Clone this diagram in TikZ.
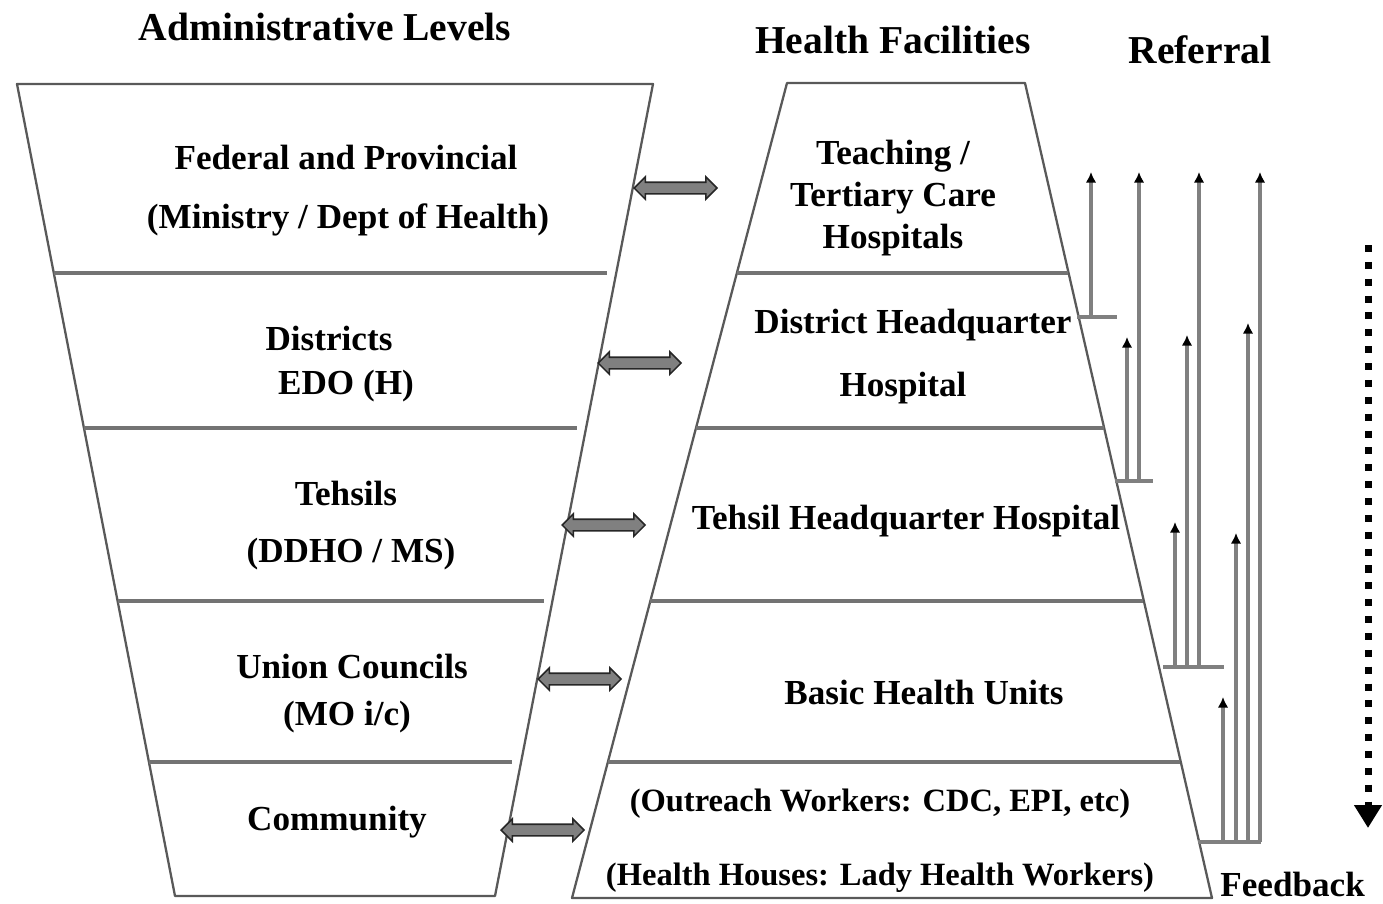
\documentclass[tikz,border=0pt]{standalone}
\usepackage{fontspec}
\setmainfont{Liberation Serif}
\usetikzlibrary{arrows.meta,shapes.arrows}
\tikzset{%
  >={Latex[width=5pt,length=5pt]},
     frame/.style = {draw=black!65, line width=1.3pt, line join=round},
   divider/.style = {draw=black!55, line width=1.8pt},
       txt/.style = {font=\bfseries\fontsize{20}{24}\selectfont, inner sep=0pt, align=center},
     small/.style = {txt, font=\bfseries\fontsize{18.5}{22}\selectfont},
     title/.style = {txt, font=\bfseries\fontsize{22.5}{27}\selectfont},
      link/.style = {double arrow, draw=black!85, fill=black!50, line width=0.9pt,
                     minimum height=1.66cm, minimum width=0.44cm,
                     double arrow head extend=0.11cm, inner xsep=0pt, inner ysep=0.1cm,
                     anchor=west},
    refbar/.style = {draw=black!50, line width=2pt},
    refarr/.style = {draw=black!50, line width=2pt, -{Latex[width=6pt,length=6pt,black]}},
  feedback/.style = {line width=4pt, dash pattern=on 4pt off 5.6pt,
                     -{Triangle[width=15pt,length=13pt]}},
}
\begin{document}
\begin{tikzpicture}[x=0.02cm, y=-0.02cm]
  \useasboundingbox (0,0) rectangle (1383,903);

  % titles
  \node (tAdm) [title] at (325,27)  {Administrative Levels};
  \node (tHF)  [title] at (893,40)  {Health Facilities};
  \node (tRef) [title] at (1200,50) {Referral};
  \node (tFb)  [txt, anchor=west] at (1220,884) {Feedback};

  % administrative levels
  \draw[frame] (17,84) -- (653,84) -- (495,896) -- (175,896) -- cycle;
  \draw[divider] (54,273)  -- (607,273);
  \draw[divider] (84,428)  -- (577,428);
  \draw[divider] (118,601) -- (544,601);
  \draw[divider] (149,762) -- (512,762);

  \node (aFed)  [txt] at (346,157) {Federal and Provincial};
  \node (aFed2) [txt] at (348,220) {(Ministry / Dept of Health)};
  \node (aDis)  [txt] at (329,338) {Districts};
  \node (aDis2) [txt] at (346,386) {EDO (H)};
  \node (aTeh)  [txt] at (346,493) {Tehsils};
  \node (aTeh2) [txt] at (351,554) {(DDHO / MS)};
  \node (aUC)   [txt] at (352,667) {Union Councils};
  \node (aUC2)  [txt] at (347,717) {(MO i/c)};
  \node (aCom)  [txt] at (337,822) {Community};

  % health facilities
  \draw[frame] (787,83) -- (1025,83) -- (1212,898) -- (572,898) -- cycle;
  \draw[divider] (737,273) -- (1068,273);
  \draw[divider] (696,428) -- (1104,428);
  \draw[divider] (650,601) -- (1143,601);
  \draw[divider] (608,762) -- (1180,762);

  \node (hTch)  [txt] at (893,198) {Teaching /\\ Tertiary Care\\ Hospitals};
  \node (hDhq)  [txt] at (913,325) {District Headquarter};
  \node (hDhq2) [txt] at (903,388) {Hospital};
  \node (hThq)  [txt] at (906,521) {Tehsil Headquarter Hospital};
  \node (hBhu)  [txt] at (924,692) {Basic Health Units};
  \node (hOut)  [small] at (880,804) {(Outreach Workers: CDC, EPI, etc)};
  \node (hHH)   [small] at (880,878) {(Health Houses: Lady Health Workers)};

  % links between the two columns
  \node (lFed) [link] at (633,188) {};
  \node (lDis) [link] at (597,363) {};
  \node (lTeh) [link] at (561,525) {};
  \node (lUC)  [link] at (537,679) {};
  \node (lCom) [link] at (500,830) {};

  % referral
  \coordinate (rDhq) at (1077,317);
  \coordinate (rThq) at (1115,481);
  \coordinate (rBhu) at (1163,667);
  \coordinate (rOut) at (1198,842);

  \draw[refbar] (rDhq) -- ++(40,0);
  \draw[refarr] (rDhq) ++(14,0) -- ++(0,-145);

  \draw[refbar] (rThq) -- ++(38,0);
  \draw[refarr] (rThq) ++(12,0) -- ++(0,-144);
  \draw[refarr] (rThq) ++(24,0) -- ++(0,-309);

  \draw[refbar] (rBhu) -- ++(61,0);
  \draw[refarr] (rBhu) ++(12,0) -- ++(0,-145);
  \draw[refarr] (rBhu) ++(24,0) -- ++(0,-332);
  \draw[refarr] (rBhu) ++(36,0) -- ++(0,-495);

  \draw[refbar] (rOut) -- ++(63,0);
  \draw[refarr] (rOut) ++(25,0) -- ++(0,-145);
  \draw[refarr] (rOut) ++(38,0) -- ++(0,-309);
  \draw[refarr] (rOut) ++(50,0) -- ++(0,-519);
  \draw[refarr] (rOut) ++(62,0) -- ++(0,-670);

  % feedback
  \coordinate (fTop) at (1368,245);
  \coordinate (fBot) at (1368,828);
  \draw[feedback] (fTop) -- (fBot);
\end{tikzpicture}
\end{document}
